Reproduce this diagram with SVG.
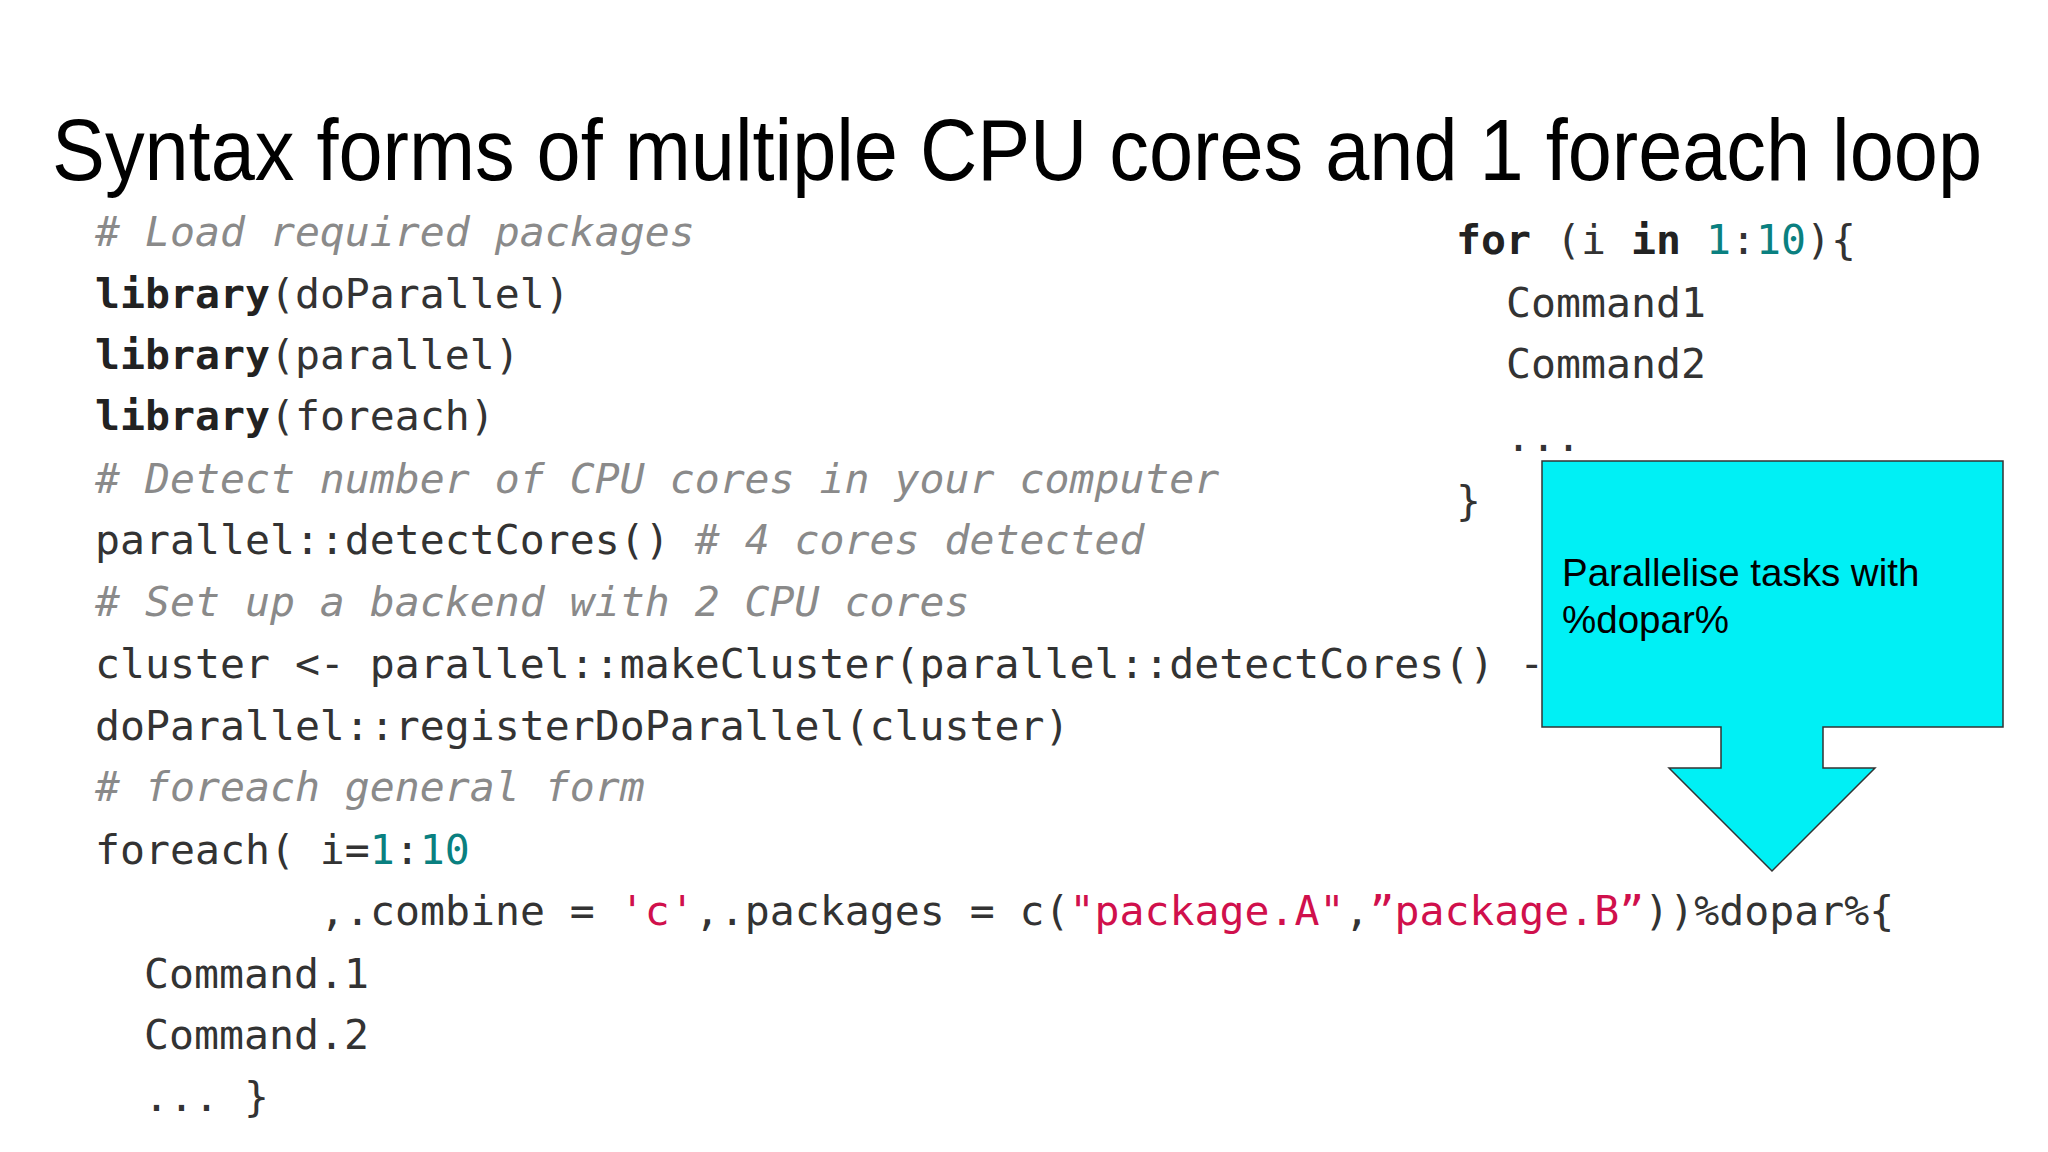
<svg xmlns="http://www.w3.org/2000/svg" width="2048" height="1152" viewBox="0 0 2048 1152">
<style>
.t{font-family:"Liberation Sans",Arial,sans-serif;font-size:88px;fill:#000}
.c{font-family:"DejaVu Sans Mono","Liberation Mono",monospace;font-size:41.5px;fill:#333;white-space:pre}
.cm{fill:#8a8a8a;font-style:italic}
.k{font-weight:bold;fill:#222}
.n{fill:#0a8080}
.s{fill:#d0104c}
.lbl{font-family:"Liberation Sans",Arial,sans-serif;font-size:38.5px;fill:#000}
</style>
<rect width="2048" height="1152" fill="#fff"/>
<text class="t" x="52" y="180" textLength="1930" lengthAdjust="spacingAndGlyphs">Syntax forms of multiple CPU cores and 1 foreach loop</text>
<g id="code">
<text class="c" x="95" y="246"><tspan class="cm"># Load required packages</tspan></text>
<text class="c" x="95" y="308"><tspan class="k">library</tspan>(doParallel)</text>
<text class="c" x="95" y="369"><tspan class="k">library</tspan>(parallel)</text>
<text class="c" x="95" y="430"><tspan class="k">library</tspan>(foreach)</text>
<text class="c" x="95" y="493"><tspan class="cm"># Detect number of CPU cores in your computer</tspan></text>
<text class="c" x="95" y="554" xml:space="preserve">parallel::detectCores() <tspan class="cm"># 4 cores detected</tspan></text>
<text class="c" x="95" y="616"><tspan class="cm"># Set up a backend with 2 CPU cores</tspan></text>
<text class="c" x="95" y="678">cluster &lt;- parallel::makeCluster(parallel::detectCores() - 2)</text>
<text class="c" x="95" y="740">doParallel::registerDoParallel(cluster)</text>
<text class="c" x="95" y="801"><tspan class="cm"># foreach general form</tspan></text>
<text class="c" x="95" y="864" xml:space="preserve">foreach( i=<tspan class="n">1</tspan>:<tspan class="n">10</tspan></text>
<text class="c" x="320" y="925" xml:space="preserve">,.combine = <tspan class="s">'c'</tspan>,.packages = c(<tspan class="s">"package.A"</tspan>,<tspan class="s">”package.B”</tspan>))%dopar%{</text>
<text class="c" x="144" y="988">Command.1</text>
<text class="c" x="144" y="1049">Command.2</text>
<text class="c" x="144" y="1111">... }</text>
</g>
<g id="forloop">
<text class="c" x="1456" y="254" xml:space="preserve"><tspan class="k">for</tspan> (i <tspan class="k">in</tspan> <tspan class="n">1</tspan>:<tspan class="n">10</tspan>){</text>
<text class="c" x="1506" y="317">Command1</text>
<text class="c" x="1506" y="378">Command2</text>
<text class="c" x="1506" y="451">...</text>
<text class="c" x="1456" y="515">}</text>
</g>
<g id="callout">
<path d="M1542,461 H2003 V727 H1823 V768 H1875 L1772,871 L1669,768 H1721 V727 H1542 Z" fill="#00f0f5" stroke="#333" stroke-width="1.5"/>
<text class="lbl" x="1562" y="586">Parallelise tasks with</text>
<text class="lbl" x="1562" y="633">%dopar%</text>
</g>
</svg>
